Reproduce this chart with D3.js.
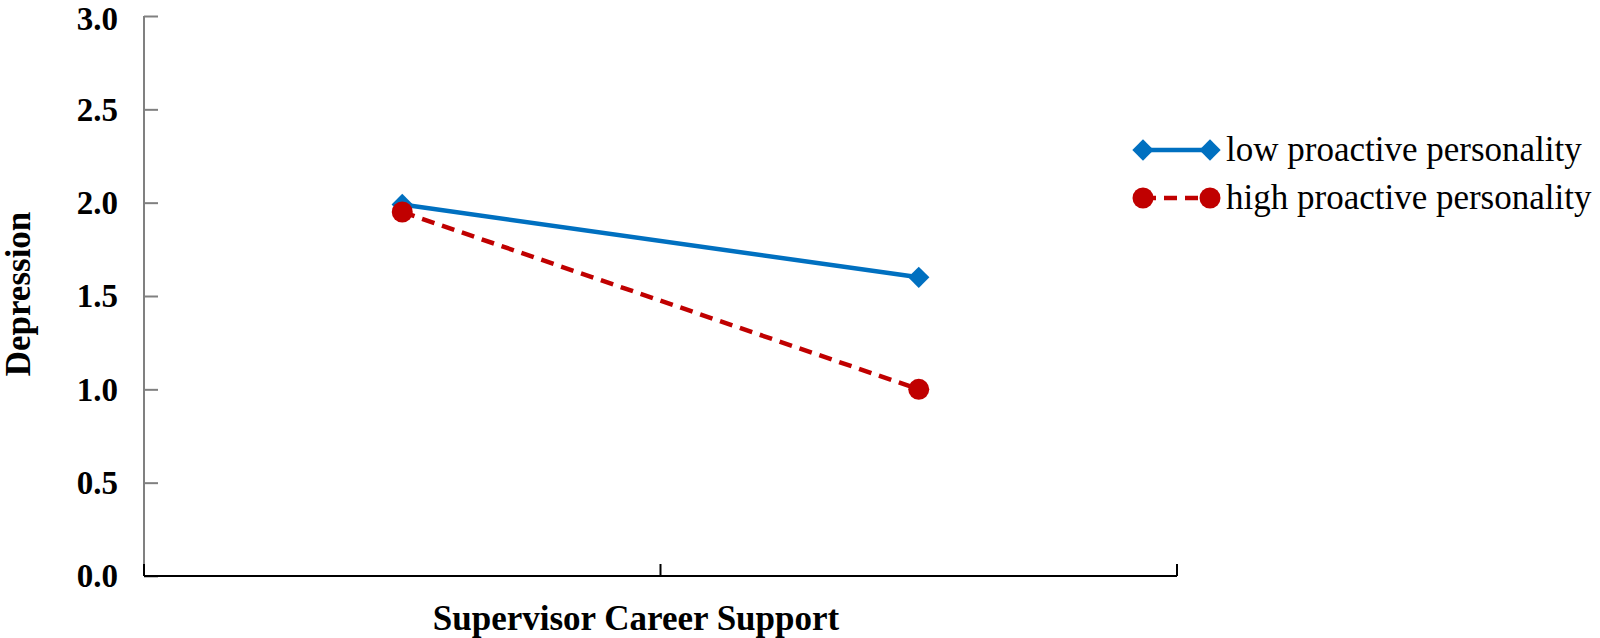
<!DOCTYPE html>
<html>
<head>
<meta charset="utf-8">
<script src="https://cdn.jsdelivr.net/npm/d3@7"></script>
<style>
  body { margin: 0; background: #fff; }
  svg { display: block; font-family: "Liberation Serif", "Times New Roman", serif; }
</style>
</head>
<body>
<svg id="chart" width="1600" height="638"></svg>
<script>
const categories = ['low', 'high'];
const lowProactive = [1.99, 1.60];
const highProactive = [1.95, 1.00];
const yTicks = [0, 0.5, 1.0, 1.5, 2.0, 2.5, 3.0];
const seriesNames = ['low proactive personality', 'high proactive personality'];

const svg = d3.select('#chart');
const margin = { top: 16, left: 144 };
const width = 1033;
const height = 560;

const x = d3.scaleBand().domain(categories).range([0, width]).padding(0);
const y = d3.scaleLinear().domain([0, 3]).range([height, 0]);

const chart = svg.append('g')
    .attr('transform', `translate(${margin.left},${margin.top})`);

// y axis: gray line, ticks pointing inward
const yAxis = chart.append('g')
    .call(d3.axisRight(y).tickValues(yTicks).tickSize(14).tickFormat(''));
yAxis.select('.domain').remove();
yAxis.selectAll('.tick line').attr('stroke', '#808080').attr('stroke-width', 2);
chart.append('line')
    .attr('x1', 0).attr('x2', 0).attr('y1', 0).attr('y2', height)
    .attr('stroke', '#808080').attr('stroke-width', 2);

// top label nudged down a little so it stays inside the page
chart.selectAll('.ylab')
    .data(yTicks)
    .enter().append('text')
    .attr('x', -26)
    .attr('y', d => Math.max(y(d), 2.5))
    .attr('dy', '0.34em')
    .attr('text-anchor', 'end')
    .attr('font-size', 33)
    .attr('font-weight', 'bold')
    .text(d => d3.format('.1f')(d));

// x axis: black line, ticks at band edges pointing up
const xEdges = [0, x.step(), width];
chart.append('line')
    .attr('x1', 0).attr('x2', width).attr('y1', height).attr('y2', height)
    .attr('stroke', '#000').attr('stroke-width', 2);
chart.selectAll('.xtick')
    .data(xEdges)
    .enter().append('line')
    .attr('x1', d => d).attr('x2', d => d)
    .attr('y1', height).attr('y2', height - 12)
    .attr('stroke', '#000').attr('stroke-width', 2);

svg.append('text')
    .attr('x', 636).attr('y', 630)
    .attr('text-anchor', 'middle')
    .attr('font-size', 35)
    .attr('font-weight', 'bold')
    .text('Supervisor Career Support');

svg.append('text')
    .attr('transform', 'translate(18,294) rotate(-90)')
    .attr('text-anchor', 'middle')
    .attr('dy', '0.35em')
    .attr('font-size', 35)
    .attr('font-weight', 'bold')
    .text('Depression');

const cx = d => x(d) + x.bandwidth() / 2;
const line = d3.line().x(d => cx(d.c)).y(d => y(d.v));

const lowData = categories.map((c, i) => ({ c, v: lowProactive[i] }));
const highData = categories.map((c, i) => ({ c, v: highProactive[i] }));

const blue = '#0070C0';
const red = '#C00000';
const diamond = d3.symbol().type(d3.symbolDiamond2).size(290);

chart.append('path').datum(lowData)
    .attr('d', line).attr('fill', 'none')
    .attr('stroke', blue).attr('stroke-width', 4.5);

chart.append('path').datum(highData)
    .attr('d', line).attr('fill', 'none')
    .attr('stroke', red).attr('stroke-width', 4.5)
    .attr('stroke-dasharray', '13,8');

chart.selectAll('.lowpt').data(lowData).enter().append('path')
    .attr('transform', d => `translate(${cx(d.c)},${y(d.v)})`)
    .attr('d', diamond).attr('fill', blue);

chart.selectAll('.highpt').data(highData).enter().append('circle')
    .attr('cx', d => cx(d.c)).attr('cy', d => y(d.v))
    .attr('r', 10.5).attr('fill', red);

// legend
const legend = svg.append('g');
const rows = [
    { name: seriesNames[0], color: blue, dash: null, marker: 'diamond', y: 150 },
    { name: seriesNames[1], color: red, dash: '13,8', marker: 'circle', y: 198 }
];
rows.forEach(r => {
    legend.append('line')
        .attr('x1', 1143).attr('x2', 1210).attr('y1', r.y).attr('y2', r.y)
        .attr('stroke', r.color).attr('stroke-width', 4.5)
        .attr('stroke-dasharray', r.dash);
    [1143, 1210].forEach(mx => {
        if (r.marker === 'diamond') {
            legend.append('path').attr('transform', `translate(${mx},${r.y})`)
                .attr('d', diamond).attr('fill', r.color);
        } else {
            legend.append('circle').attr('cx', mx).attr('cy', r.y)
                .attr('r', 10.5).attr('fill', r.color);
        }
    });
    legend.append('text')
        .attr('x', 1226).attr('y', r.y)
        .attr('dy', '0.32em')
        .attr('font-size', 35)
        .text(r.name);
});
</script>
</body>
</html>
